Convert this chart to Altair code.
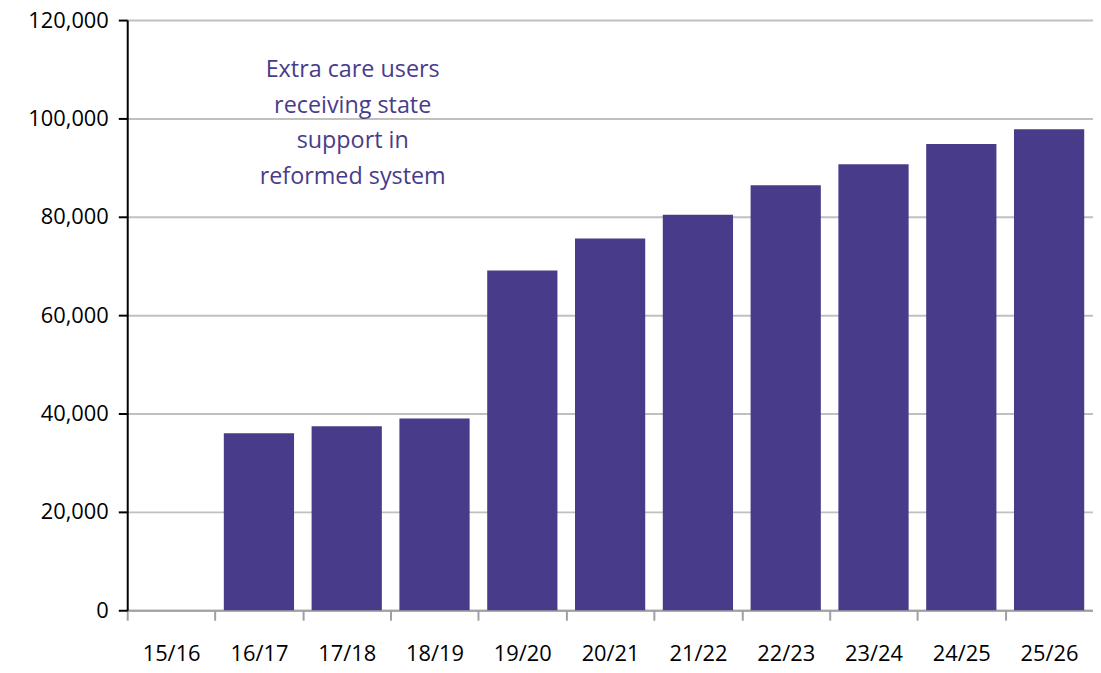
import altair as alt
import pandas as pd

years = ["15/16", "16/17", "17/18", "18/19", "19/20", "20/21", "21/22", "22/23", "23/24", "24/25", "25/26"]
users = [0, 36000, 37400, 39000, 69100, 75600, 80400, 86400, 90700, 94800, 97800]

note_text = ["Extra care users", "receiving state", "support in", "reformed system"]
note_year = ["17/18"]
note_value = [112300]

df = pd.DataFrame({"year": years, "users": users})
note_df = pd.DataFrame({"year": note_year, "value": note_value, "text": [note_text]})

purple = "#483c8a"
font = "Open Sans"

W = 972
step = W / 11.0
bw = step * 0.8

xenc = alt.X("year:N", sort=years, title=None,
             scale=alt.Scale(paddingInner=0.2, paddingOuter=0.1),
             axis=alt.Axis(labelAngle=0, labelFontSize=22, labelFont=font, labelColor="#000000",
                           labelPadding=24, bandPosition=0, tickOffset=-(step - bw) / 2,
                           labelOffset=(step - bw) / 2, tickExtra=False,
                           tickSize=10, tickColor="#a0a0a0",
                           tickWidth=2, domainColor="#a0a0a0", domainWidth=2))

bars = alt.Chart(df).mark_bar(color=purple).encode(
    x=xenc,
    y=alt.Y("users:Q", title=None,
            scale=alt.Scale(domain=[0, 120000]),
            axis=alt.Axis(values=[0, 20000, 40000, 60000, 80000, 100000, 120000], format=",d",
                          labelFontSize=22, labelFont=font, labelColor="#000000", labelPadding=10,
                          tickSize=9, tickColor="#000000", tickWidth=2,
                          domainColor="#000000", domainWidth=2,
                          gridColor="#c0c0c0", gridWidth=2)),
)

note = alt.Chart(note_df).mark_text(color=purple, fontSize=23.5, font=font, baseline="top",
                                   align="center", lineHeight=36, dx=6).encode(
    x=alt.X("year:N", sort=years),
    y=alt.Y("value:Q"),
    text="text",
)

chart = alt.layer(bars, note).properties(
    width=W, height=594,
    autosize=alt.AutoSizeParams(type="none"),
    padding={"left": 120, "top": 10, "right": 0, "bottom": 58},
).configure_view(stroke=None)

chart.save("out.html", embed_options={"renderer": "svg", "actions": False})
